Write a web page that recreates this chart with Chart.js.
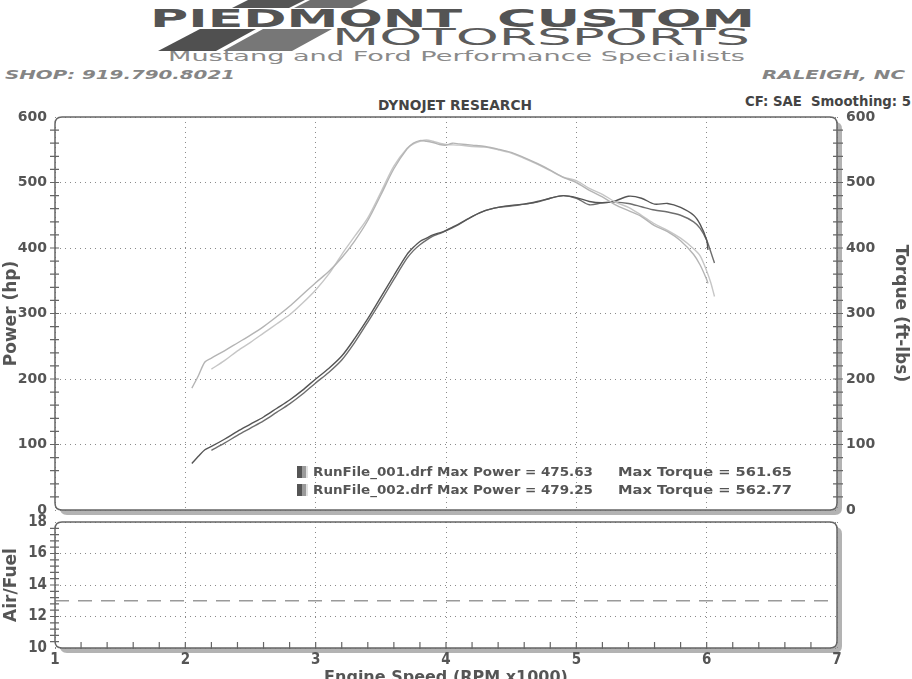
<!DOCTYPE html>
<html>
<head>
<meta charset="utf-8">
<script src="https://cdn.jsdelivr.net/npm/chart.js@4.4.1/dist/chart.umd.min.js"></script>
<style>
html, body { margin: 0; padding: 0; background: #fff; overflow: hidden; }
body { width: 912px; height: 679px; position: relative; font-family: 'DejaVu Sans', sans-serif; }
.txt { position: absolute; white-space: nowrap; transform-origin: 0 0; }
.bar { position: absolute; left: 0; top: 0; width: 912px; height: 60px; }
#powerBox { position: absolute; left: 0; top: 95px; width: 912px; height: 430px; }
#afrBox { position: absolute; left: 0; top: 512px; width: 912px; height: 180px; }
#legend { position: absolute; left: 297px; top: 463px; font: bold 13px 'DejaVu Sans', sans-serif; color: #555; }
#legend .row { position: relative; height: 18px; line-height: 18px; white-space: nowrap; }
#legend .sw { position: absolute; left: 0; top: 3px; width: 11px; height: 12px;
  background: linear-gradient(90deg, #555 0 50%, #9a9a9a 50% 80%, #e0e0e0 80%); }
#legend .pw, #legend .tq { position: absolute; top: 0; display: inline-block; transform-origin: 0 0; }
#legend .pw { left: 16px; }
#legend .tq { left: 321px; }
</style>
</head>
<body>
<div class="bar" style="background:#555;clip-path:polygon(248px 0,305px 0,289px 8px,232px 8px)"></div>
<div class="bar" style="background:#6e6e6e;clip-path:polygon(310px 0,368px 0,352px 8px,294px 8px)"></div>
<div class="bar" style="background:#505050;clip-path:polygon(200px 29px,256px 29px,216px 51px,158px 51px)"></div>
<div class="bar" style="background:#777;clip-path:polygon(263px 29px,332px 29px,292px 51px,223px 51px)"></div>

<div class="txt" id="t1" style="left:150px;top:7px;font:bold 24px/1 'DejaVu Sans';color:#545454">PIEDMONT</div>
<div class="txt" id="t2" style="left:497px;top:7px;font:bold 24px/1 'DejaVu Sans';color:#545454">CUSTOM</div>
<div class="txt" id="t3" style="left:332px;top:26px;font:23px/1 'DejaVu Sans';color:#5c5c5c">MOTORSPORTS</div>
<div class="txt" id="t4" style="left:168px;top:49px;font:14px/1 'DejaVu Sans';color:#8a8a8a">Mustang and Ford Performance Specialists</div>
<div class="txt" id="t5" style="left:5px;top:68px;font:italic bold 13px/1 'DejaVu Sans';color:#858585">SHOP: 919.790.8021</div>
<div class="txt" id="t6" style="left:762px;top:68px;font:italic bold 13px/1 'DejaVu Sans';color:#858585">RALEIGH, NC</div>
<div class="txt" id="t7" style="left:378px;top:97px;font:bold 14px 'Liberation Sans Narrow','DejaVu Sans Condensed',sans-serif;color:#444">DYNOJET RESEARCH</div>
<div class="txt" id="t8" style="left:745px;top:93px;font:bold 14px 'Liberation Sans Narrow','DejaVu Sans Condensed',sans-serif;color:#444">CF: SAE&nbsp;&nbsp;Smoothing: 5</div>

<div id="powerBox"><canvas id="power"></canvas></div>
<div id="afrBox"><canvas id="afr"></canvas></div>
<div id="legend"></div>

<script>
// run 1
const rpmA = [2.05, 2.10, 2.15, 2.20, 2.30, 2.40, 2.50, 2.60, 2.70, 2.80, 2.90, 3.00, 3.10, 3.20, 3.30, 3.40,
  3.50, 3.60, 3.70, 3.75, 3.80, 3.85, 3.90, 3.95, 4.00, 4.05, 4.10, 4.20, 4.30, 4.40, 4.50, 4.60, 4.70, 4.80,
  4.90, 5.00, 5.10, 5.20, 5.30, 5.40, 5.50, 5.60, 5.70, 5.80, 5.90, 5.95, 6.00, 6.01];
const powerA = [71, 82, 92, 97, 108, 120, 131, 142, 155, 168, 183, 200, 216, 235, 262, 292,
  325, 358, 390, 401, 410, 415, 420, 423, 427, 432, 437, 448, 457, 462, 465, 467, 471, 476,
  480, 477, 471, 469, 472, 479, 476, 467, 468, 462, 450, 436, 412, 397];
const torqueA = [186, 205, 226, 232, 243, 255, 267, 280, 295, 311, 329, 347, 364, 385, 411, 442,
  481, 521, 551, 560, 564, 563, 561, 558, 557, 560, 559, 557, 555, 551, 546, 538, 529, 519,
  508, 500, 488, 478, 466, 457, 448, 434, 425, 411, 390, 374, 352, 346];

// run 2
const rpmB = [2.20, 2.30, 2.40, 2.50, 2.60, 2.70, 2.80, 2.90, 3.00, 3.10, 3.20, 3.30, 3.40, 3.50, 3.60,
  3.70, 3.75, 3.80, 3.85, 3.90, 3.95, 4.00, 4.10, 4.20, 4.30, 4.40, 4.50, 4.60, 4.70, 4.80, 4.90, 5.00,
  5.10, 5.20, 5.30, 5.40, 5.50, 5.60, 5.70, 5.80, 5.90, 5.95, 6.00, 6.03, 6.06];
const powerB = [91, 102, 114, 125, 136, 149, 162, 177, 194, 210, 229, 256, 287, 319, 352,
  384, 396, 405, 412, 418, 422, 426, 436, 448, 457, 462, 464, 467, 470, 476, 480, 476,
  466, 469, 470, 468, 463, 458, 455, 450, 440, 430, 412, 395, 377];
const torqueB = [215, 228, 243, 256, 270, 284, 298, 316, 336, 360, 390, 418, 446, 485, 525,
  552, 559, 563, 565, 563, 560, 558, 557, 555, 554, 550, 545, 537, 528, 518, 508, 503,
  491, 482, 470, 462, 450, 437, 427, 415, 399, 388, 365, 348, 326];

const runNames = ['RunFile_001.drf', 'RunFile_002.drf'];
const maxPower = ['475.63', '479.25'];
const maxTorque = ['561.65', '562.77'];

// air/fuel reference line
const afrRpm = [1, 7];
const afrLine = [13, 13];

const labelFont = { family: 'DejaVu Sans', weight: 'bold', size: 14 };
const narrowFont = { family: "'Liberation Sans Narrow', 'DejaVu Sans Condensed', sans-serif", weight: 'bold', size: 15 };
const gridColor = '#8a8a8a';
const textColor = '#555';

function pts(xs, ys) {
  return xs.map((x, i) => ({ x: x, y: ys[i] }));
}

function boxPath(ctx, x, y, w, h, r) {
  ctx.beginPath();
  ctx.moveTo(x + r, y);
  ctx.lineTo(x + w - r, y);
  ctx.quadraticCurveTo(x + w, y, x + w, y + r);
  ctx.lineTo(x + w, y + h - r);
  ctx.quadraticCurveTo(x + w, y + h, x + w - r, y + h);
  ctx.lineTo(x + r, y + h);
  ctx.quadraticCurveTo(x, y + h, x, y + h - r);
  ctx.lineTo(x, y + r);
  ctx.quadraticCurveTo(x, y, x + r, y);
  ctx.closePath();
}

function minorSteps(scale, step) {
  const out = [];
  const n = Math.round((scale.max - scale.min) / step);
  for (let i = 1; i < n; i++) out.push(scale.getPixelForValue(scale.min + i * step));
  return out;
}

// keep the plot box where the layout padding puts it
function fixWidth(w) {
  return s => { s.width = w; s.paddingTop = 0; s.paddingBottom = 0; };
}
function fixHeight(h) {
  return s => { s.height = h; s.paddingLeft = 0; s.paddingRight = 0; };
}

// rounded frame with the grey drop shadow and the small tick marks
const framePlugin = {
  id: 'frame',
  beforeDraw(chart, args, o) {
    const { ctx, chartArea: a } = chart;
    ctx.save();
    ctx.fillStyle = '#b3b3b3';
    boxPath(ctx, a.left + 5, a.top + 5, a.width, a.height, 7);
    ctx.fill();
    ctx.fillStyle = '#fff';
    boxPath(ctx, a.left, a.top, a.width, a.height, 7);
    ctx.fill();
    ctx.restore();
  },
  afterDraw(chart, args, o) {
    const { ctx, chartArea: a, scales } = chart;
    ctx.save();
    ctx.strokeStyle = '#666';
    ctx.lineWidth = 1.5;
    boxPath(ctx, a.left, a.top, a.width, a.height, 7);
    ctx.stroke();
    ctx.lineWidth = 1.2;
    ctx.beginPath();
    minorSteps(scales.y, o.yStep).forEach(p => { ctx.moveTo(a.left - 5, p); ctx.lineTo(a.left + 4, p); });
    if (scales.y2) {
      minorSteps(scales.y2, o.yStep).forEach(p => { ctx.moveTo(a.right - 4, p); ctx.lineTo(a.right + 6, p); });
    }
    if (o.xStep) {
      minorSteps(scales.x, o.xStep).forEach(p => { ctx.moveTo(p, a.bottom + 1); ctx.lineTo(p, a.bottom - 6); });
    }
    ctx.stroke();
    ctx.restore();
  }
};
Chart.register(framePlugin);

function line(label, data, color, axis) {
  return {
    label: label,
    data: data,
    borderColor: color,
    borderWidth: 1.4,
    pointRadius: 0,
    tension: 0.3,
    fill: false,
    yAxisID: axis
  };
}

new Chart(document.getElementById('power'), {
  type: 'line',
  data: {
    datasets: [
      line(runNames[0] + ' torque', pts(rpmA, torqueA), '#b4b4b4', 'y2'),
      line(runNames[1] + ' torque', pts(rpmB, torqueB), '#c6c6c6', 'y2'),
      line(runNames[0] + ' power', pts(rpmA, powerA), '#555', 'y'),
      line(runNames[1] + ' power', pts(rpmB, powerB), '#6e6e6e', 'y')
    ]
  },
  options: {
    responsive: true,
    maintainAspectRatio: false,
    animation: false,
    layout: { padding: { top: 22, bottom: 15, left: 0, right: 0 } },
    plugins: {
      legend: { display: false },
      tooltip: { enabled: false },
      frame: { yStep: 20 }
    },
    scales: {
      x: {
        type: 'linear', min: 1, max: 7,
        ticks: { stepSize: 1, display: false },
        grid: { color: gridColor, drawTicks: false },
        border: { display: false, dash: [1, 4] },
        afterFit: fixHeight(0)
      },
      y: {
        position: 'left', min: 0, max: 600,
        ticks: { stepSize: 100, color: textColor, font: labelFont, padding: 8 },
        grid: { color: gridColor, drawTicks: false },
        border: { display: false, dash: [1, 4] },
        title: { display: true, text: 'Power (hp)', color: textColor, font: { family: 'DejaVu Sans', weight: 'bold', size: 17 }, padding: { top: 1, bottom: 1 } },
        afterFit: fixWidth(55)
      },
      y2: {
        position: 'right', min: 0, max: 600,
        ticks: { stepSize: 100, color: textColor, font: labelFont, padding: 9 },
        grid: { display: false, drawTicks: false },
        border: { display: false },
        title: { display: true, text: 'Torque (ft-lbs)', color: textColor, font: { family: 'DejaVu Sans', weight: 'bold', size: 17 }, padding: { top: 1, bottom: 1 } },
        afterFit: fixWidth(75)
      }
    }
  }
});

new Chart(document.getElementById('afr'), {
  type: 'line',
  data: {
    datasets: [{
      label: 'Air/Fuel',
      data: pts(afrRpm, afrLine),
      borderColor: '#9a9a9a',
      borderWidth: 1.3,
      borderDash: [14, 9],
      pointRadius: 0,
      fill: false
    }]
  },
  options: {
    responsive: true,
    maintainAspectRatio: false,
    animation: false,
    layout: { padding: { top: 10, bottom: 0, left: 0, right: 75 } },
    plugins: {
      legend: { display: false },
      tooltip: { enabled: false },
      frame: { yStep: 0.4, xStep: 0.2 }
    },
    scales: {
      x: {
        type: 'linear', min: 1, max: 7,
        ticks: { stepSize: 1, color: textColor, font: narrowFont, padding: 3 },
        grid: { color: gridColor, drawTicks: false },
        border: { display: false, dash: [1, 4] },
        title: { display: true, text: 'Engine Speed (RPM x1000)', color: textColor, font: { family: 'DejaVu Sans', weight: 'bold', size: 16 }, padding: { top: 0, bottom: 5 } },
        afterFit: fixHeight(44)
      },
      y: {
        position: 'left', min: 10, max: 18,
        ticks: { stepSize: 2, color: textColor, font: narrowFont, padding: 8 },
        grid: { color: gridColor, drawTicks: false },
        border: { display: false, dash: [1, 4] },
        title: { display: true, text: 'Air/Fuel', color: textColor, font: { family: 'DejaVu Sans', weight: 'bold', size: 17 }, padding: { top: 1, bottom: 1 } },
        afterFit: fixWidth(55)
      }
    }
  }
});

function stretch(el, width) {
  const w = el.getBoundingClientRect().width;
  el.style.transform = 'scaleX(' + (width / w) + ')';
}

const legend = document.getElementById('legend');
runNames.forEach((name, i) => {
  const row = document.createElement('div');
  row.className = 'row';
  row.innerHTML = '<span class="sw"></span><span class="pw">' + name + ' Max Power = ' + maxPower[i] +
    '</span><span class="tq">Max Torque = ' + maxTorque[i] + '</span>';
  legend.appendChild(row);
  stretch(row.querySelector('.pw'), 280);
  stretch(row.querySelector('.tq'), 174);
});

// stretch the header texts to the widths they have on the sheet
const fitWidths = { t1: 312, t2: 258, t3: 418, t4: 577, t5: 230, t6: 143, t7: 154, t8: 166 };
Object.keys(fitWidths).forEach(id => stretch(document.getElementById(id), fitWidths[id]));
</script>
</body>
</html>
